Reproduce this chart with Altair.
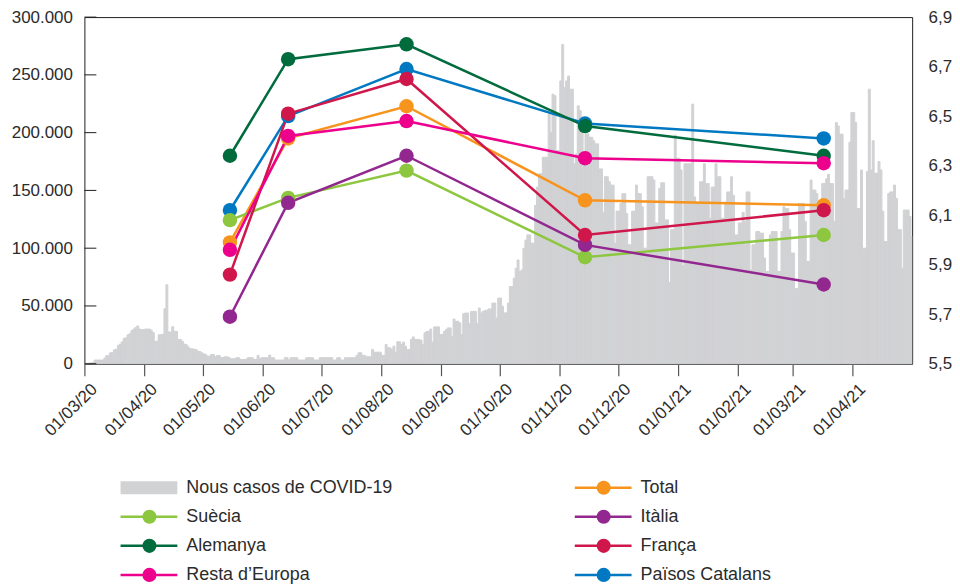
import altair as alt
import pandas as pd

# Daily new COVID-19 cases (thousands), one value per day from 01/03/2020
cases_k = [
    0.2, 0.3, 0.5, 0.7, 1.0, 3.2, 3.2, 3.2, 3.2, 3.2,
    4.9, 7.0, 7.2, 9.5, 9.5, 12.0, 12.6, 15.8, 17.0, 18.9,
    22.0, 22.4, 25.0, 26.0, 28.7, 30.0, 31.3, 32.7, 30.0, 29.5,
    29.5, 30.0, 30.0, 30.0, 29.0, 27.0, 19.5, 19.5, 25.0, 25.0,
    25.5, 47.6, 68.3, 27.5, 27.5, 32.0, 28.0, 28.0, 21.0, 21.0,
    19.5, 17.0, 16.5, 14.6, 13.0, 12.9, 12.5, 12.3, 11.0, 10.6,
    9.5, 8.6, 8.0, 6.6, 6.6, 8.0, 8.0, 6.0, 7.2, 7.0,
    5.2, 5.5, 6.0, 6.0, 5.5, 4.3, 4.3, 4.3, 5.2, 5.2,
    3.7, 3.7, 3.7, 4.0, 5.2, 5.2, 5.2, 3.7, 3.7, 7.2,
    4.3, 5.2, 5.2, 5.2, 5.2, 7.5, 5.2, 5.2, 3.2, 3.2,
    3.2, 3.2, 3.2, 5.2, 5.2, 3.2, 5.2, 5.2, 5.2, 5.2,
    3.2, 3.2, 3.2, 3.2, 5.2, 5.2, 5.2, 5.2, 3.2, 3.2,
    3.2, 5.2, 5.2, 5.2, 5.2, 5.2, 5.2, 5.2, 3.2, 3.2,
    5.2, 5.2, 3.2, 3.2, 5.2, 5.2, 5.2, 5.2, 5.2, 5.2,
    7.2, 9.5, 9.5, 7.2, 7.2, 6.0, 6.0, 6.0, 12.3, 10.0,
    10.0, 10.0, 10.0, 7.2, 7.2, 16.6, 13.8, 13.8, 12.3, 15.2,
    10.0, 19.0, 19.0, 16.6, 18.7, 15.2, 12.3, 12.3, 21.0, 23.2,
    21.0, 21.0, 21.0, 20.4, 16.6, 26.7, 28.0, 28.0, 30.0, 18.7,
    31.9, 31.9, 31.9, 25.3, 25.3, 28.0, 29.6, 31.0, 31.0, 23.8,
    38.7, 36.7, 36.7, 35.3, 25.3, 43.3, 43.9, 43.9, 34.7, 45.3,
    45.3, 45.3, 34.7, 48.2, 43.9, 45.3, 46.2, 46.2, 47.4, 47.4,
    52.5, 52.5, 39.6, 56.8, 56.8, 49.7, 44.0, 44.0, 52.5, 66.8,
    66.8, 74.0, 82.6, 89.8, 79.8, 81.2, 99.9, 107.0, 111.5, 111.5,
    104.3, 104.3, 137.0, 152.9, 164.4, 164.4, 178.7, 178.7, 178.7, 216.0,
    200.3, 233.3, 231.9, 184.5, 184.5, 244.8, 276.3, 239.0, 244.8, 249.0,
    237.6, 237.6, 173.0, 181.6, 223.2, 219.0, 201.7, 173.0, 198.9, 198.9,
    196.0, 196.0, 193.0, 190.3, 190.3, 168.6, 168.6, 131.0, 161.8, 161.8,
    157.5, 154.6, 154.6, 104.3, 132.0, 132.0, 138.6, 147.2, 147.2, 130.0,
    102.9, 102.9, 132.0, 132.0, 154.6, 147.2, 147.2, 135.8, 100.0, 100.0,
    161.8, 161.8, 161.8, 159.0, 121.8, 121.8, 151.8, 156.6, 156.6, 124.5,
    124.5, 70.3, 116.0, 116.0, 197.8, 177.8, 177.8, 167.7, 84.7, 173.0,
    173.0, 173.0, 173.0, 224.7, 144.4, 138.6, 138.6, 157.5, 157.5, 173.0,
    156.0, 156.0, 125.9, 152.9, 152.9, 173.0, 161.8, 161.8, 125.9, 125.9,
    140.0, 148.7, 148.7, 161.8, 145.8, 111.5, 111.5, 121.8, 121.8, 131.0,
    123.2, 148.7, 148.7, 81.2, 102.9, 102.9, 114.4, 114.4, 113.0, 113.0,
    91.5, 79.8, 79.8, 111.5, 114.4, 114.4, 114.4, 79.8, 79.8, 114.4,
    135.8, 134.4, 134.4, 116.0, 95.8, 95.8, 65.0, 65.0, 138.6, 138.6,
    138.6, 123.2, 88.6, 88.6, 159.0, 150.3, 150.3, 147.2, 138.6, 138.6,
    156.0, 156.0, 160.0, 164.0, 156.0, 156.0, 123.2, 208.7, 205.8, 198.7,
    198.7, 143.0, 150.3, 150.3, 191.7, 217.4, 217.4, 208.7, 134.4, 134.4,
    167.7, 100.0, 100.0, 166.3, 237.6, 167.7, 193.0, 164.9, 164.9, 175.0,
    167.7, 132.0, 105.7, 105.7, 147.2, 148.7, 148.7, 154.6, 143.0, 116.0,
    116.0, 82.6, 133.0, 133.0, 133.0, 127.4, 110.0,
]
first_day = "2020-03-01"

# Survey waves (right axis)
survey_dates = ["2020-05-15", "2020-06-14", "2020-08-14", "2020-11-14", "2021-03-17"]
series_names = ["Total", "Suècia", "Itàlia", "Alemanya", "França",
                "Resta d’Europa", "Països Catalans"]
series_colors = ["#f7941d", "#8dc63f", "#92278f", "#006b3c", "#d0174b",
                 "#ec008c", "#0079c2"]
total = [5.99, 6.41, 6.54, 6.16, 6.14]
suecia = [6.08, 6.17, 6.28, 5.93, 6.02]
italia = [5.69, 6.15, 6.34, 5.98, 5.82]
alemanya = [6.34, 6.73, 6.79, 6.46, 6.34]
franca = [5.86, 6.51, 6.65, 6.02, 6.12]
resta = [5.96, 6.42, 6.48, 6.33, 6.31]
paisos = [6.12, 6.50, 6.69, 6.47, 6.41]
series_values = [total, suecia, italia, alemanya, franca, resta, paisos]
draw_order = ["Total", "Països Catalans", "Suècia", "Itàlia", "Alemanya",
              "França", "Resta d’Europa"]

# Axis ticks
month_ticks = [(2020, 3), (2020, 4), (2020, 5), (2020, 6), (2020, 7), (2020, 8),
               (2020, 9), (2020, 10), (2020, 11), (2020, 12), (2021, 1), (2021, 2),
               (2021, 3), (2021, 4)]
left_ticks = [0, 50000, 100000, 150000, 200000, 250000, 300000]
right_ticks = [5.5, 5.7, 5.9, 6.1, 6.3, 6.5, 6.7, 6.9]

bar_label = "Nous casos de COVID-19"
legend_labels = [bar_label, "Total", "Suècia", "Itàlia", "Alemanya", "França",
                 "Resta d’Europa", "Països Catalans"]
legend_cols = [0, 1, 0, 1, 0, 1, 0, 1]
legend_rows = [0, 0, 1, 1, 2, 2, 3, 3]

# ---------------- data tables ----------------
start = pd.Timestamp(first_day)
bars_df = pd.DataFrame({
    "start": [start + pd.Timedelta(days=i) for i in range(len(cases_k))],
    "cases": [v * 1000 for v in cases_k],
})
bars_df["end"] = bars_df["start"] + pd.Timedelta(days=1)

rows = []
for name, vals in zip(series_names, series_values):
    for d, v in zip(survey_dates, vals):
        rows.append({"serie": name, "date": pd.Timestamp(d), "value": v,
                     "z": draw_order.index(name)})
lines_df = pd.DataFrame(rows).sort_values("z")

leg_df = pd.DataFrame({"label": legend_labels, "col": legend_cols, "row": legend_rows})
leg_df["kind"] = ["bar" if l == bar_label else "line" for l in legend_labels]

# ---------------- styling ----------------
FONT = "Liberation Sans"
TXT = "#2b2b2b"
GRAY = "#d1d2d4"
x_domain = [alt.DateTime(year=2020, month=3, date=1),
            alt.DateTime(year=2021, month=5, date=1, hours=14)]
tick_dates = [alt.DateTime(year=y, month=m, date=1) for y, m in month_ticks]
xscale = alt.Scale(domain=x_domain)
color_scale = alt.Scale(domain=series_names, range=series_colors)

bars = alt.Chart(bars_df).mark_rect(color=GRAY, stroke=GRAY, strokeWidth=1.0, clip=True).encode(
    x=alt.X("start:T", scale=xscale,
            axis=alt.Axis(values=tick_dates, format="%d/%m/%y", labelAngle=-45,
                          labelAlign="right", labelBaseline="top", labelOffset=4,
                          labelPadding=5, labelOverlap=False, tickSize=12,
                          tickColor="#555555", tickWidth=1.2, domainColor="#666666",
                          domainWidth=1.6, labelFontSize=17, labelColor=TXT,
                          labelFont=FONT, grid=False, title=None)),
    x2="end:T",
    y=alt.Y("cases:Q", scale=alt.Scale(domain=[0, 300000]),
            axis=alt.Axis(orient="left", values=left_ticks,
                          labelExpr="replace(format(datum.value, ','), ',', '.')",
                          ticks=False, tickSize=0, domain=False, grid=False,
                          labelPadding=12, labelFontSize=17, labelColor=TXT,
                          labelFont=FONT, title=None)),
    y2=alt.datum(0),
)

inner_ticks = alt.Chart(pd.DataFrame({"v": left_ticks})).mark_rule(
    color="#231f20", strokeWidth=1).encode(
    y=alt.Y("v:Q", scale=alt.Scale(domain=[0, 300000]), axis=None),
    x=alt.value(0), x2=alt.value(12),
)

lines = alt.Chart(lines_df).mark_line(strokeWidth=2.5).encode(
    x=alt.X("date:T", scale=xscale, axis=None),
    y=alt.Y("value:Q", scale=alt.Scale(domain=[5.5, 6.9]),
            axis=alt.Axis(orient="right", values=right_ticks,
                          labelExpr="replace(format(datum.value, '.1f'), '.', ',')",
                          ticks=False, tickSize=0, domain=False, grid=False,
                          labelPadding=16, labelFontSize=17, labelColor=TXT,
                          labelFont=FONT, title=None)),
    color=alt.Color("serie:N", scale=color_scale, legend=None),
)

points = alt.Chart(lines_df).mark_circle(size=210, opacity=1).encode(
    x=alt.X("date:T", scale=xscale, axis=None),
    y=alt.Y("value:Q", scale=alt.Scale(domain=[5.5, 6.9]), axis=None),
    color=alt.Color("serie:N", scale=color_scale, legend=None),
    order=alt.Order("z:Q"),
)

# ---------------- legend (drawn below the plot) ----------------
lx = alt.X("col:Q", scale=alt.Scale(domain=[0, 1], range=[36.3, 492.3]), axis=None)
ly = alt.Y("row:Q", scale=alt.Scale(domain=[0, 3], range=[472.5, 560]), axis=None)
leg_color = alt.Color("label:N", scale=alt.Scale(domain=series_names, range=series_colors),
                      legend=None)
leg_base = alt.Chart(leg_df)

leg_rect = leg_base.transform_filter("datum.kind == 'bar'").mark_rule(
    color=GRAY, strokeWidth=13, x2Offset=57).encode(x=lx, x2="col:Q", y=ly)
leg_line = leg_base.transform_filter("datum.kind == 'line'").mark_rule(
    strokeWidth=2.5, x2Offset=57).encode(x=lx, x2="col:Q", y=ly, color=leg_color)
leg_dot = leg_base.transform_filter("datum.kind == 'line'").mark_circle(
    size=200, opacity=1, xOffset=29).encode(x=lx, y=ly, color=leg_color)
leg_text = leg_base.mark_text(align="left", baseline="middle", dx=66, fontSize=18,
                              font=FONT, color=TXT).encode(x=lx, y=ly, text="label:N")

chart = alt.layer(
    bars, inner_ticks, lines, points, leg_rect, leg_line, leg_dot, leg_text
).resolve_scale(
    x="independent", y="independent", color="independent"
).properties(
    width=831, height=348,
    autosize=alt.AutoSizeParams(type="none"),
    padding={"left": 76.7, "top": 8, "right": 40, "bottom": 221},
).configure_view(
    stroke="#231f20", strokeWidth=1
)

chart.save("out.html", embed_options={"renderer": "svg", "actions": False})
